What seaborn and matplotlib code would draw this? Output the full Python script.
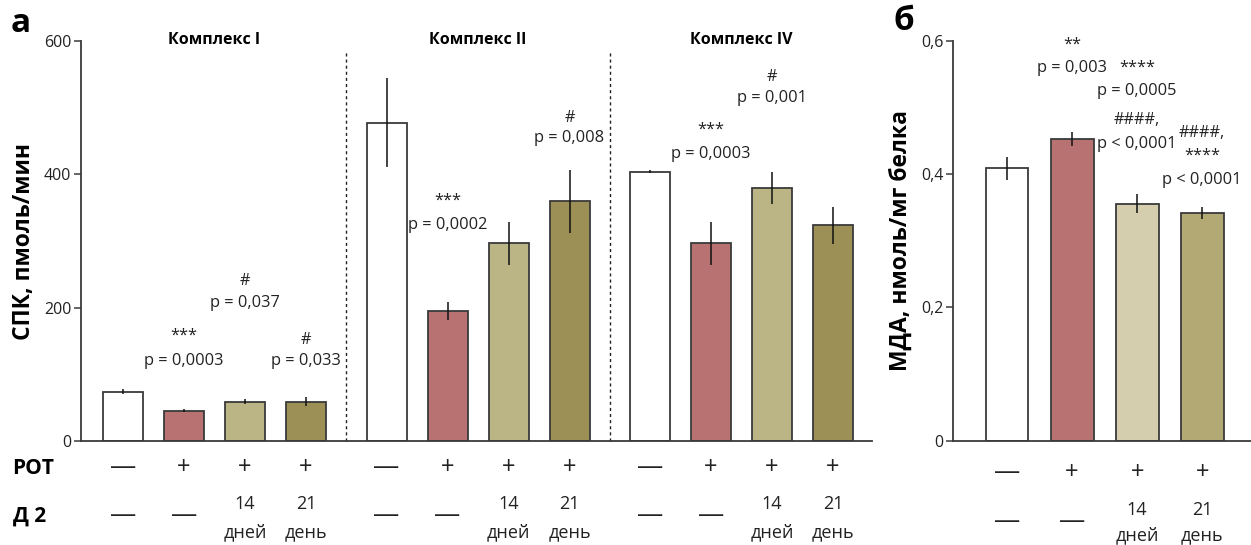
import matplotlib
matplotlib.use("Agg")
import matplotlib.pyplot as plt
import pandas as pd
import seaborn as sns

# ---- data -----------------------------------------------------------------
groups = ["контроль", "РОТ", "РОТ + Д2 14 дней", "РОТ + Д2 21 день"]
complexes = ["Комплекс I", "Комплекс II", "Комплекс IV"]

spk_complex_I = [74, 45.5, 59, 59]
spk_complex_I_sem = [4, 2.5, 3.5, 7]
spk_complex_II = [477.5, 194.5, 296.5, 359.5]
spk_complex_II_sem = [67, 13.5, 32.5, 47]
spk_complex_IV = [404, 296.5, 380, 323.5]
spk_complex_IV_sem = [2.5, 32.5, 24, 28]

mda = [0.409, 0.453, 0.356, 0.342]
mda_sem = [0.017, 0.010, 0.014, 0.009]

rot_row = ["—", "+", "+", "+"]
d2_days = ["—", "—", "14", "21"]
d2_units = ["", "", "дней", "день"]

spk_ticks = [0, 200, 400, 600]
mda_ticks = [0, 0.2, 0.4, 0.6]
mda_tick_labels = ["0", "0,2", "0,4", "0,6"]

# significance marks: (bar index, text, height in data units)
notes_complex_I = [(1, "***", 158), (1, "p = 0,0003", 120), (2, "#", 240),
                   (2, "p = 0,037", 207), (3, "#", 152), (3, "p = 0,033", 120)]
notes_complex_II = [(1, "***", 361), (1, "p = 0,0002", 324),
                    (3, "#", 485), (3, "p = 0,008", 454)]
notes_complex_IV = [(1, "***", 467), (1, "p = 0,0003", 430),
                    (2, "#", 546), (2, "p = 0,001", 514)]
notes_mda = [(1, "**", 0.594), (1, "p = 0,003", 0.559), (2, "****", 0.560),
             (2, "p = 0,0005", 0.525), (2, "####,", 0.482), (2, "p < 0,0001", 0.446),
             (3, "####,", 0.462), (3, "****", 0.428), (3, "p < 0,0001", 0.392)]

# ---- style ----------------------------------------------------------------
sns.set_style("ticks")
plt.rcParams["font.family"] = ["Open Sans", "DejaVu Sans"]
INK = "#222222"
EDGE = "#3a3a3a"
palette_spk = dict(zip(groups, ["#ffffff", "#b87271", "#bbb585", "#9d9056"]))
palette_mda = dict(zip(groups, ["#ffffff", "#b87271", "#d4ceae", "#b2a975"]))

W, H = 1251, 545
fig = plt.figure(figsize=(W / 100, H / 100), dpi=100)


def px_axes(x0, y0, x1, y1):
    return fig.add_axes([x0 / W, 1 - y1 / H, (x1 - x0) / W, (y1 - y0) / H])


def style_axes(ax):
    sns.despine(ax=ax)
    for s in ("left", "bottom"):
        ax.spines[s].set_color(EDGE)
        ax.spines[s].set_linewidth(1.3)
    ax.tick_params(axis="y", direction="out", length=5, width=1.1, color=EDGE,
                   labelsize=11.5, labelcolor=INK, pad=2)
    ax.set_xticks([])
    ax.set_xlabel("")


DASH = 19   # size of the long dash used for "absent" in the treatment rows
SIGN = 17   # size of the "+" signs
DAYS = 13   # size of the day counts

# ---- panel а: SPK activity --------------------------------------------------
ax1 = px_axes(81, 41, 872, 441)
step = 4.32
rows = []
for g, (vals, errs) in enumerate([(spk_complex_I, spk_complex_I_sem),
                                  (spk_complex_II, spk_complex_II_sem),
                                  (spk_complex_IV, spk_complex_IV_sem)]):
    for i in range(4):
        rows.append({"pos": g * step + i, "val": vals[i], "sem": errs[i],
                     "grp": groups[i], "cx": complexes[g]})
spk = pd.DataFrame(rows)

sns.barplot(data=spk, x="pos", y="val", hue="grp", palette=palette_spk,
            native_scale=True, dodge=False, width=0.656, errorbar=None,
            saturation=1, edgecolor=EDGE, linewidth=1.3, legend=False,
            ax=ax1, zorder=2)
ax1.errorbar(spk["pos"], spk["val"], yerr=spk["sem"], fmt="none",
             ecolor="#111111", elinewidth=1.1, capsize=0, zorder=3)

ax1.set_xlim(-0.69, 12.28)
ax1.set_ylim(0, 600)
ax1.set_yticks(spk_ticks)
ax1.set_yticklabels([str(t) for t in spk_ticks])
style_axes(ax1)
ax1.set_ylabel("СПК, пмоль/мин", fontsize=16.5, fontweight="bold",
               color="black", labelpad=6)

for sep in (3.66, 7.98):
    ax1.plot([sep, sep], [0, 583], color=INK, lw=1.0, ls=(0, (2.2, 2.2)),
             zorder=1, clip_on=False)

for g, name in enumerate(complexes):
    ax1.text(g * step + 1.5, 601, name, ha="center", va="center", fontsize=11.5,
             fontweight="bold", color="black", clip_on=False)

for g, notes in enumerate([notes_complex_I, notes_complex_II, notes_complex_IV]):
    for i, txt, y in notes:
        ax1.text(g * step + i, y, txt, ha="center", va="center", fontsize=11.8,
                 color=INK)

xt1 = ax1.get_xaxis_transform()
for g in range(3):
    for i in range(4):
        x = g * step + i
        ax1.text(x, -0.0675, rot_row[i], ha="center", va="center",
                 fontsize=DASH if rot_row[i] == "—" else SIGN, color=INK,
                 transform=xt1, clip_on=False)
        if d2_units[i]:
            ax1.text(x, -0.1575, d2_days[i], ha="center", va="center",
                     fontsize=DAYS, color=INK, transform=xt1, clip_on=False)
            ax1.text(x, -0.2275, d2_units[i], ha="center", va="center",
                     fontsize=DAYS, color=INK, transform=xt1, clip_on=False)
        else:
            ax1.text(x, -0.1875, d2_days[i], ha="center", va="center",
                     fontsize=DASH, color=INK, transform=xt1, clip_on=False)

# ---- panel б: MDA ---------------------------------------------------------------
ax2 = px_axes(953, 41, 1251, 440.7)
mda_df = pd.DataFrame({"pos": range(4), "val": mda, "sem": mda_sem, "grp": groups})
sns.barplot(data=mda_df, x="pos", y="val", hue="grp", palette=palette_mda,
            native_scale=True, dodge=False, width=0.66, errorbar=None,
            saturation=1, edgecolor=EDGE, linewidth=1.3, legend=False,
            ax=ax2, zorder=2)
ax2.errorbar(mda_df["pos"], mda_df["val"], yerr=mda_df["sem"], fmt="none",
             ecolor="#111111", elinewidth=1.1, capsize=0, zorder=3)
ax2.set_xlim(-0.83, 3.75)
ax2.set_ylim(0, 0.6)
ax2.set_yticks(mda_ticks)
ax2.set_yticklabels(mda_tick_labels)
style_axes(ax2)
ax2.set_ylabel("МДА, нмоль/мг белка", fontsize=16.5, fontweight="bold",
               color="black", labelpad=6)

for i, txt, y in notes_mda:
    ax2.text(i, y, txt, ha="center", va="center", fontsize=11.8, color=INK,
             clip_on=False)

xt2 = ax2.get_xaxis_transform()
for i in range(4):
    ax2.text(i, -0.08, rot_row[i], ha="center", va="center",
             fontsize=DASH if rot_row[i] == "—" else SIGN, color=INK,
             transform=xt2, clip_on=False)
    if d2_units[i]:
        ax2.text(i, -0.1725, d2_days[i], ha="center", va="center",
                 fontsize=DAYS, color=INK, transform=xt2, clip_on=False)
        ax2.text(i, -0.2375, d2_units[i], ha="center", va="center",
                 fontsize=DAYS, color=INK, transform=xt2, clip_on=False)
    else:
        ax2.text(i, -0.2025, d2_days[i], ha="center", va="center",
                 fontsize=DASH, color=INK, transform=xt2, clip_on=False)

# ---- row captions and panel letters ----------------------------------------
fig.text(33 / W, 1 - 468 / H, "РОТ", ha="center", va="center", fontsize=15,
         fontweight="bold", color="black")
fig.text(30 / W, 1 - 516 / H, "Д 2", ha="center", va="center", fontsize=15,
         fontweight="bold", color="black")
fig.text(21 / W, 1 - 24 / H, "а", ha="center", va="center", fontsize=24,
         fontweight="bold", color="black")
fig.text(904 / W, 1 - 22 / H, "б", ha="center", va="center", fontsize=24,
         fontweight="bold", color="black")

fig.savefig("out.png", dpi=100)
